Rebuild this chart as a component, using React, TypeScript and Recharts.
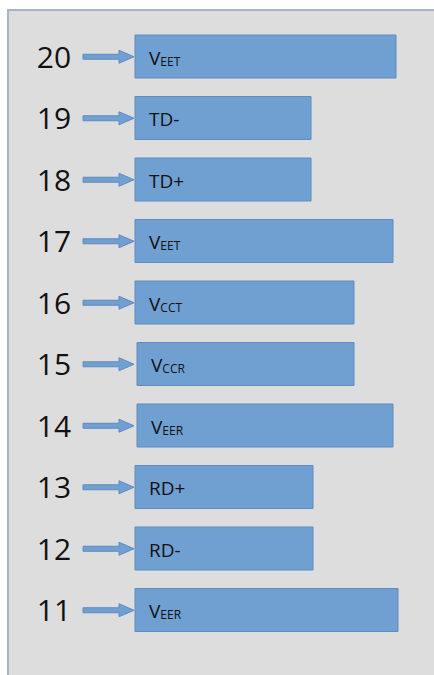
import React from "react";
import { BarChart, Bar, XAxis, YAxis, LabelList } from "recharts";

const pins = ["20", "19", "18", "17", "16", "15", "14", "13", "12", "11"];
const barStart = [0, 0, 0, 0, 0, 2, 2, 0, 0, 0];
const barEnd = [261, 176, 176, 258, 219, 219, 258, 178, 178, 263];
const labelMain = ["V", "TD-", "TD+", "V", "V", "V", "V", "RD+", "RD-", "V"];
const labelSub = ["EET", "", "", "EET", "CCT", "CCR", "EER", "", "", "EER"];

const data = pins.map((p, i) => ({
  pin: p,
  range: [barStart[i], barEnd[i]],
  main: labelMain[i],
  sub: labelSub[i],
}));

const FONT = "'Open Sans', 'Noto Sans', sans-serif";
const BLUE = "#709fd1";
const EDGE = "#5f8bc0";

const PinTick = (props: any) => {
  const { x, y, payload } = props;
  const ax = x - 52;
  const hx = x - 16;
  const ex = x - 1;
  const arrow = `M${ax},${y - 2.5} L${hx},${y - 2.5} L${hx},${y - 6.5} L${ex},${y} L${hx},${y + 6.5} L${hx},${y + 2.5} L${ax},${y + 2.5} Z`;
  return (
    <g>
      <text
        x={x - 81}
        y={y}
        dy={11}
        textAnchor="middle"
        fontSize={30}
        fontFamily={FONT}
        fill="#111"
      >
        {payload.value}
      </text>
      <path d={arrow} fill={BLUE} stroke={EDGE} strokeWidth={1} />
    </g>
  );
};

const BarText = (props: any) => {
  const { x, y, height, index } = props;
  const d = data[index];
  return (
    <text
      x={x + 14}
      y={y + height / 2 + 8}
      fontSize={19}
      fontFamily={FONT}
      fill="#111"
    >
      {d.main}
      {d.sub ? (
        <tspan fontSize={12} dy={1}>
          {d.sub}
        </tspan>
      ) : null}
    </text>
  );
};

export default function App() {
  return (
    <div style={{ position: "absolute", left: 0, top: 0, width: 434, height: 675, background: "#fff" }}>
      <div
        style={{
          position: "absolute",
          left: 7,
          top: 9,
          right: 0,
          bottom: 0,
          background: "#dddddd",
          borderLeft: "2px solid #a4b3c8",
          borderTop: "2px solid #a4b3c8",
        }}
      />
      <div style={{ position: "absolute", left: 0, top: 0 }}>
        <BarChart
          width={434}
          height={675}
          data={data}
          layout="vertical"
          margin={{ top: 26, right: 0, bottom: 34, left: 0 }}
          barSize={43}
        >
          <XAxis type="number" hide domain={[0, 299]} />
          <YAxis
            type="category"
            dataKey="pin"
            width={135}
            axisLine={false}
            tickLine={false}
            tickSize={0}
            tickMargin={0}
            tick={<PinTick />}
            interval={0}
          />
          <Bar
            dataKey="range"
            fill={BLUE}
            stroke={EDGE}
            strokeWidth={1}
            isAnimationActive={false}
          >
            <LabelList dataKey="main" content={<BarText />} />
          </Bar>
        </BarChart>
      </div>
    </div>
  );
}
